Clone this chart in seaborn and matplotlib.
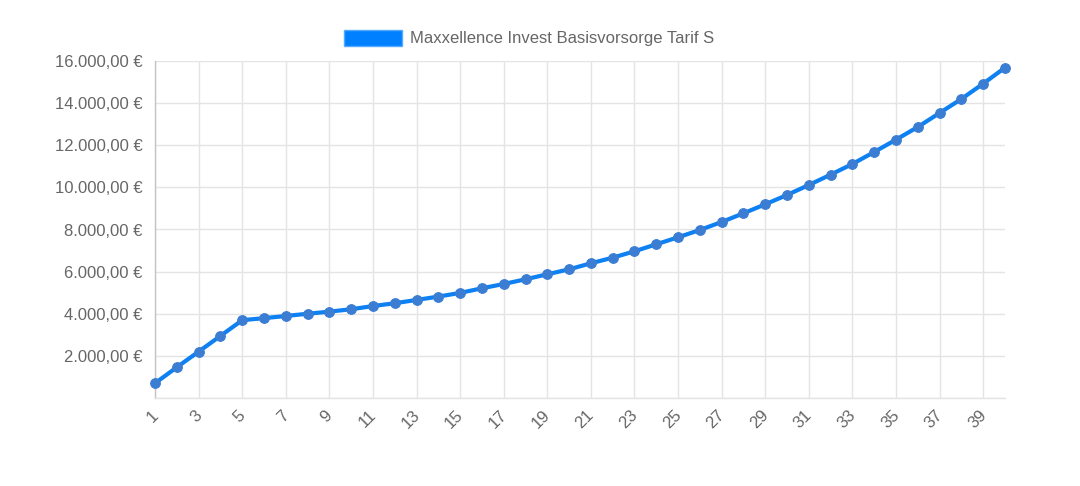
import matplotlib
matplotlib.use("Agg")
import matplotlib.pyplot as plt
import matplotlib.transforms as mtransforms
import seaborn as sns
import pandas as pd
from matplotlib.patches import Patch
from matplotlib.ticker import FuncFormatter

# ---- data ----
years = list(range(1, 41))
values = [700, 1460, 2200, 2945, 3695, 3790, 3894, 4000, 4100, 4215,
          4365, 4500, 4655, 4815, 4990, 5209, 5413, 5636, 5873, 6110,
          6396, 6662, 6965, 7298, 7630, 7977, 8357, 8770, 9196, 9639,
          10114, 10604, 11111, 11681, 12266, 12868, 13533, 14198, 14925, 15684]
series_name = "Maxxellence Invest Basisvorsorge Tarif S"
x_ticks = list(range(1, 40, 2))
y_ticks = list(range(2000, 16001, 2000))

df = pd.DataFrame({"Jahr": years, "Wert": values})

sns.set_theme(style="white")
plt.rcParams["font.family"] = ["Liberation Sans", "DejaVu Sans"]

fig = plt.figure(figsize=(10.8, 4.86), dpi=100)
ax = fig.add_axes([155/1080, 88/486, 850/1080, 337/486])

line_col = "#0d80f2"
mark_col = "#3b7dd3"
sns.lineplot(data=df, x="Jahr", y="Wert", ax=ax, color=line_col, linewidth=3.0,
             marker="o", markersize=7.0, markerfacecolor=mark_col,
             markeredgecolor=mark_col, clip_on=False, zorder=5)

ax.set_xlim(1, 40)
ax.set_ylim(0, 16000)
ax.set_xlabel("")
ax.set_ylabel("")

ax.set_xticks(x_ticks)
ax.set_xticklabels([str(t) for t in x_ticks], rotation=45, ha="right", va="top",
                   rotation_mode="default")
ax.set_yticks([0] + y_ticks)

def fmt(v, pos):
    if v == 0:
        return ""
    s = f"{int(v):,}".replace(",", ".")
    return f"{s},00 €"
ax.yaxis.set_major_formatter(FuncFormatter(fmt))

grid_col = "#e4e4e4"
ax.grid(True, color=grid_col, linewidth=1.0)
ax.set_axisbelow(True)
for s in ["top", "right"]:
    ax.spines[s].set_visible(False)
ax.spines["left"].set_color("#c4c4c4")
ax.spines["left"].set_linewidth(1.0)
ax.spines["bottom"].set_color(grid_col)
ax.spines["bottom"].set_linewidth(1.0)

ax.tick_params(axis="y", length=0, pad=9, labelsize=12, labelcolor="#666666")
ax.tick_params(axis="x", length=6, width=1.0, color=grid_col, pad=1,
               labelsize=12, labelcolor="#666666")
ax.xaxis.get_major_ticks()[0].tick1line.set_color("black")

offset = mtransforms.ScaledTranslation(6/100, 0, fig.dpi_scale_trans)
for lbl in ax.get_xticklabels():
    lbl.set_transform(lbl.get_transform() + offset)

handle = Patch(facecolor="#0080ff", edgecolor="#55aaff", linewidth=1.0)
fig.legend([handle], [series_name], loc="center", bbox_to_anchor=(529/1080, 1 - 38/486),
           frameon=False, fontsize=12, labelcolor="#666666",
           handlelength=3.5, handleheight=1.15, handletextpad=0.45)

fig.savefig("out.png", dpi=100, facecolor="white")
